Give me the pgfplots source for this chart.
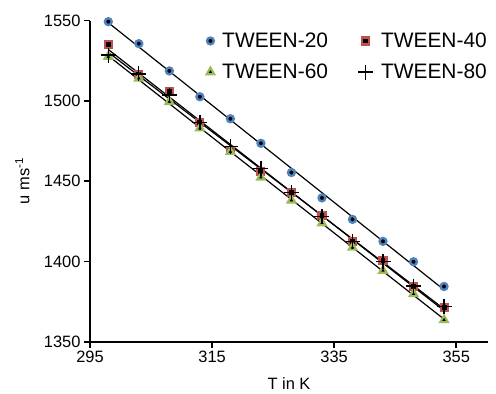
\documentclass[border=0pt]{standalone}
\usepackage{pgfplots}
\usepackage{pgfplotstable}
\pgfplotsset{compat=1.18}
\usepackage{fontspec}
\setmainfont{Liberation Sans}
\usetikzlibrary{calc}
\definecolor{cblue}{RGB}{79,129,189}
\definecolor{cred}{RGB}{192,80,77}
\definecolor{cgreen}{RGB}{155,187,89}
\pgfplotstableread{
T   A      B      C      D
298 1549.4 1534.9 1527.6 1528.6
303 1535.7 1516.2 1514.1 1516.8
308 1518.7 1505.8 1499.5 1503.7
313 1502.6 1486.7 1483.0 1486.5
318 1488.9 1469.0 1468.4 1471.5
323 1473.6 1456.0 1452.4 1458.0
328 1455.4 1442.9 1438.1 1442.9
333 1439.6 1428.9 1423.9 1427.9
338 1426.2 1412.3 1408.7 1412.3
343 1412.5 1400.5 1394.3 1399.8
348 1399.8 1384.3 1379.8 1384.7
353 1384.4 1371.2 1363.6 1371.8
}\data
\begin{document}
\begin{tikzpicture}
\begin{axis}[
  scale only axis,
  width=398bp, height=321bp,
  xmin=295, xmax=360.2, ymin=1350, ymax=1550,
  axis x line*=bottom, axis y line*=left,
  axis line style={line width=1.6bp},
  xtick={295,315,335,355}, ytick={1350,1400,1450,1500,1550},
  tick align=outside, major tick length=6bp,
  tick style={line width=1.6bp, black},
  /pgf/number format/assume math mode=true,
  /pgf/number format/1000 sep={},
  ticklabel style={font=\fontsize{16.5}{18}\selectfont},
  xlabel={T in K}, ylabel={u ms\textsuperscript{-1}},
  label style={font=\fontsize{16.5}{18}\selectfont},
  xlabel style={at={(axis description cs:0.5,-0.13)}, anchor=center},
  ylabel style={at={(axis description cs:-0.17,0.5)}, anchor=center},
  legend columns=2,
  legend cell align=left,
  legend style={draw=none, fill=none, at={(1.01,0.975)}, anchor=north east,
    font=\fontsize{21}{24}\selectfont, row sep=11bp,
    /tikz/every odd column/.append style={column sep=6bp},
    /tikz/every even column/.append style={column sep=28bp}},
  clip=false,
]
\addplot[only marks, mark=*, mark size=3.4bp, mark options={draw=cblue, fill=black, line width=2.4bp}] table[x=T,y=A] {\data};
\addlegendentry{TWEEN-20}
\addplot[only marks, mark=square*, mark size=3.5bp, mark options={draw=cred, fill=black, line width=2.1bp}] table[x=T,y=B] {\data};
\addlegendentry{TWEEN-40}
\addplot[only marks, mark=triangle*, mark size=4.4bp, mark options={draw=cgreen, fill=black, line width=2.1bp}] table[x=T,y=C] {\data};
\addlegendentry{TWEEN-60}
\addplot[only marks, mark=+, mark size=7.5bp, mark options={draw=black, line width=1.3bp}] table[x=T,y=D] {\data};
\addlegendentry{TWEEN-80}
\addplot[black, line width=1.2bp, no marks, forget plot] table[x=T, y={create col/linear regression={y=A}}] {\data};
\addplot[black, line width=1.2bp, no marks, forget plot] table[x=T, y={create col/linear regression={y=B}}] {\data};
\addplot[black, line width=1.2bp, no marks, forget plot] table[x=T, y={create col/linear regression={y=C}}] {\data};
\addplot[black, line width=1.2bp, no marks, forget plot] table[x=T, y={create col/linear regression={y=D}}] {\data};
\end{axis}
\pgfresetboundingbox
\path[use as bounding box] ($(current axis.south west)+(-90bp,-52.3bp)$) rectangle ($(current axis.north east)+(8bp,20.7bp)$);
\end{tikzpicture}
\end{document}
